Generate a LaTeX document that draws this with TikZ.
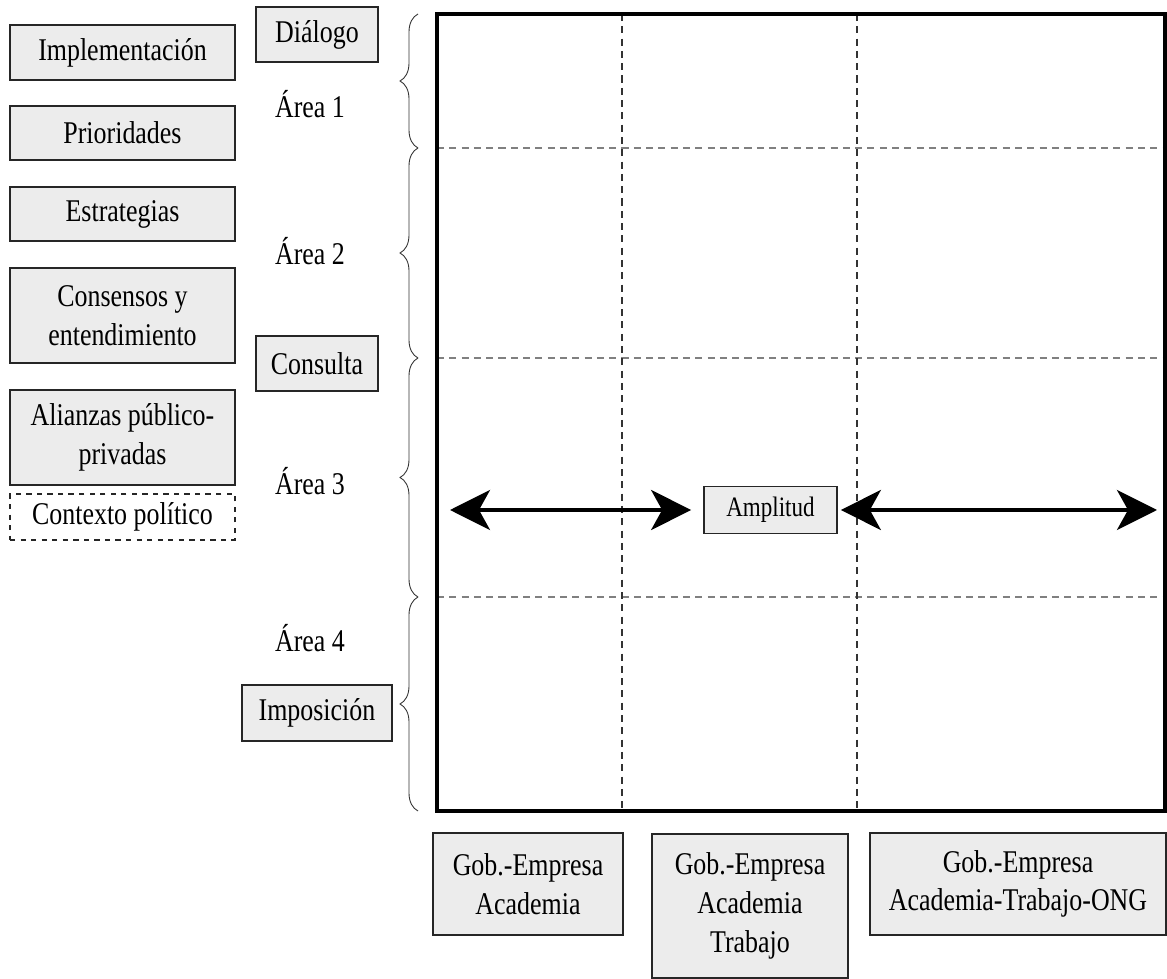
\documentclass[tikz,border=0pt]{standalone}
\usepackage{fontspec}
\setmainfont{Liberation Serif}[FakeStretch=0.82]
\usetikzlibrary{positioning, calc, arrows.meta, decorations.pathreplacing}

\begin{document}
\begin{tikzpicture}[x=0.02cm, y=-0.02cm,
    box/.style={draw=black!85, fill=gray!15, line width=1pt, align=center, inner sep=0pt, font=\fontsize{18}{22}\selectfont},
    label/.style={font=\fontsize{18}{22}\selectfont},
    grid/.style={dashed, gray, line width=0.8pt, dash pattern=on 4pt off 3pt},
    bracket/.style={decorate, decoration={brace, amplitude=0.36cm}, line width=0.5pt, black!80},
    wide/.style={line width=2.2pt, {Stealth[length=8mm, width=8mm, inset=2.2mm]}-{Stealth[length=8mm, width=8mm, inset=2.2mm]}}]
    \useasboundingbox (0,0) rectangle (1167,979);

    % left column
    \node[box, minimum width=4.5cm, minimum height=1.1cm] (impl) at (122.5,52.5) {Implementación};
    \node[box, minimum width=4.5cm, minimum height=1.08cm] (prio) at (122.5,133) {Prioridades};
    \node[box, minimum width=4.5cm, minimum height=1.08cm] (estr) at (122.5,214) {Estrategias};
    \node[box, minimum width=4.5cm, minimum height=1.9cm] (cons) at (122.5,315.5) {Consensos y\\entendimiento};
    \node[box, minimum width=4.5cm, minimum height=1.9cm] (alia) at (122.5,437.5) {Alianzas público-\\privadas};
    \node[box, fill=none, dashed, minimum width=4.5cm, minimum height=0.92cm] (ctx) at (122.5,517) {Contexto político};

    % areas
    \node[box, minimum width=2.44cm, minimum height=1.1cm] (dial) at (317,34.5) {Diálogo};
    \node[label] (a1) at (310,104) {Área 1};
    \node[label] (a2) at (310,251) {Área 2};
    \node[box, minimum width=2.44cm, minimum height=1.1cm] (cslt) at (317,363.5) {Consulta};
    \node[label] (a3) at (310,481) {Área 3};
    \node[label] (a4) at (310,638) {Área 4};
    \node[box, minimum width=3cm, minimum height=1.12cm] (impo) at (317,713) {Imposición};

    \draw[bracket] (418,148) -- (418,14);
    \draw[bracket] (418,358) -- (418,148);
    \draw[bracket] (418,597) -- (418,358);
    \draw[bracket] (418,811) -- (418,597);

    % grid
    \draw[grid] (437,148) -- (1165,148);
    \draw[grid] (437,358) -- (1165,358);
    \draw[grid] (437,597) -- (1165,597);
    \draw[grid, black!80] (622,14) -- (622,811);
    \draw[grid, black!80] (857,14) -- (857,811);
    \draw[line width=2pt] (437,14) rectangle (1165,811);

    % amplitude
    \node[box, font=\fontsize{16}{18}\selectfont, minimum width=2.66cm, minimum height=0.94cm] (amp) at (770.5,510) {Amplitud};
    \coordinate (lend) at (450,510);
    \coordinate (rend) at (1157,510);
    \draw[wide] (lend) -- ([xshift=-0.24cm]amp.west);
    \draw[wide] ([xshift=0.06cm]amp.east) -- (rend);

    % actors
    \node[box, minimum width=3.8cm, minimum height=2.04cm] (g1) at (528,884) {Gob.-Empresa\\Academia};
    \node[box, minimum width=3.92cm, minimum height=2.88cm, anchor=north] (g2) at (750,833) {Gob.-Empresa\\Academia\\Trabajo};
    \node[box, minimum width=5.92cm, minimum height=2.04cm] (g3) at (1018,884) {Gob.-Empresa\\Academia-Trabajo-ONG};
\end{tikzpicture}
\end{document}
